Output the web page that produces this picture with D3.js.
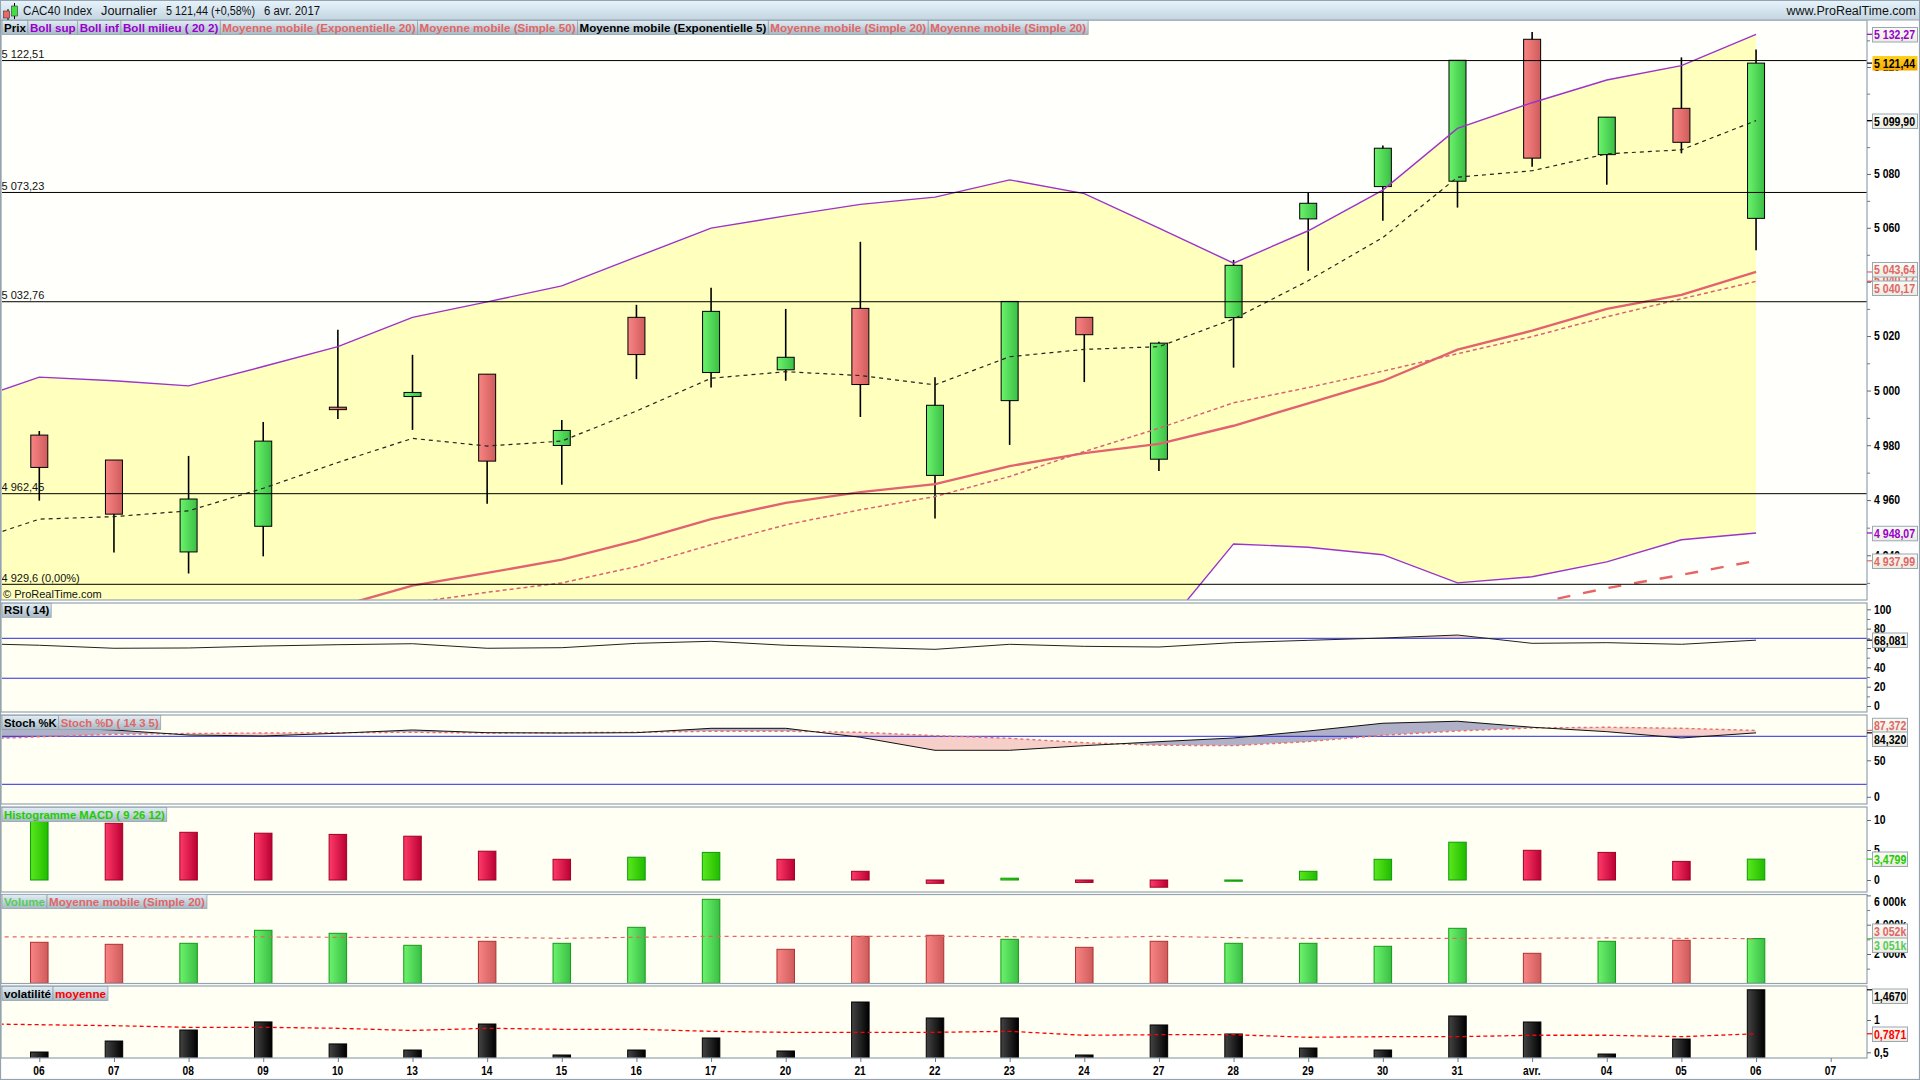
<!DOCTYPE html>
<html><head><meta charset="utf-8">
<script src="https://cdn.jsdelivr.net/npm/d3@7/dist/d3.min.js"></script>
<style>
html,body{margin:0;padding:0;background:#fff;overflow:hidden}
svg{display:block}
text{font-family:"Liberation Sans",Arial,sans-serif}
</style></head><body>
<svg id="c" width="1920" height="1080"></svg>
<script>
// ---------- data ----------
const categories=["06","07","08","09","10","13","14","15","16","17","20","21","22","23","24","27","28","29","30","31","avr.","04","05","06","07"];
const openVals=[4983.7,4974.6,4941.2,4950.5,4993.9,4997.8,5006.0,4979.9,5026.9,5006.6,5007.6,5030.2,4969.0,4996.3,5026.9,4974.9,5026.8,5063.3,5075.3,5077.3,5130.4,5087.2,5104.5,5063.5];
const highVals=[4985.2,4974.6,4976.1,4988.5,5022.3,5013.1,5006.0,4989.2,5031.5,5037.8,5030.0,5054.8,5004.9,5032.76,5026.9,5017.9,5048.1,5073.0,5090.6,5122.51,5133.1,5101.2,5123.6,5126.6];
const lowVals=[4959.8,4941.0,4933.4,4939.6,4989.6,4985.6,4958.7,4965.6,5004.2,5001.1,5003.6,4990.3,4953.3,4980.1,5003.1,4970.6,5008.4,5044.1,5062.6,5067.5,5082.7,5076.0,5087.7,5051.7];
const closeVals=[4971.9,4954.9,4960.4,4981.5,4993.0,4999.3,4974.2,4985.4,5013.2,5029.1,5012.2,5002.2,4994.6,5032.76,5020.5,5017.4,5046.1,5069.1,5089.6,5122.51,5085.9,5101.2,5091.8,5121.44];
// overlay series start one session before the first visible bar
const bollSup=[4995.5,5004.9,5003.6,5001.7,5008.8,5016.1,5026.9,5032.6,5038.5,5049.2,5059.9,5064.4,5068.7,5071.4,5077.8,5072.7,5059.9,5046.9,5058.9,5074.0,5097.0,5106.6,5115.1,5120.5,5132.27];
const bollInf=[4885,4890,4892,4889,4888,4890,4895,4898,4902,4904,4905,4906,4908,4909,4910,4910,4911.4,4944.1,4942.9,4940.2,4930.0,4932.2,4937.6,4945.6,4948.07];
const ema5=[4944.1,4953.1,4954.0,4956.1,4964.3,4973.7,4982.5,4979.7,4981.5,4992.5,5004.5,5006.9,5005.5,5002.1,5012.4,5015.1,5016.1,5026.3,5040.4,5056.4,5078.8,5081.2,5087.5,5089.0,5099.9];
const ema20=[null,null,null,null,null,4921.4,4929.0,4933.6,4938.4,4945.3,4953.1,4959.0,4962.9,4965.8,4972.4,4977.1,4980.5,4987.1,4995.3,5003.5,5015.0,5022.0,5030.0,5035.2,5043.64];
const sma20=[null,null,null,null,null,null,4922.8,4926.6,4930.0,4935.9,4943.8,4951.0,4956.5,4961.3,4968.6,4977.7,4986.2,4995.5,5001.1,5007.1,5013.5,5019.8,5027.1,5033.7,5040.17];
const sma50=[null,null,null,null,null,null,null,null,null,null,null,null,null,null,null,null,null,null,null,null,null,4922.4,4928.1,4932.9,4937.99];
const supportLevels=[5122.51,5073.23,5032.76,4962.45,4929.6];
const supportLabels=["5 122,51","5 073,23","5 032,76","4 962,45","4 929,6 (0,00%)"];
const priceTicks=[5130,5120,5110,5100,5090,5080,5070,5060,5050,5040,5030,5020,5010,5000,4990,4980,4970,4960,4950,4940,4930];
const rsiVals=[64.8,62.8,59.7,60.0,62.0,63.4,64.4,59.7,60.3,64.8,66.9,62.8,60.7,58.6,63.8,61.7,61.0,65.5,67.9,70.3,73.4,64.8,65.5,63.8,68.081];
const rsiLevels=[70,28.7];
const stochK=[86.6,91.0,87.9,81.6,80.4,83.8,87.9,84.5,84.1,84.5,90.0,90.0,78.8,62.5,62.5,68.3,73.3,77.9,86.6,96.3,98.8,91.3,85.8,77.9,84.32];
const stochD=[75.4,79.5,82.5,83.5,84.1,84.5,85.0,84.1,84.5,85.0,86.3,86.3,85.0,80.8,77.5,72.0,68.8,68.3,73.3,81.3,86.6,90.4,91.3,90.0,87.372];
const stochLevels=[80,20];
const macdVals=[10.6,9.45,7.95,7.8,7.6,7.3,4.8,3.45,3.8,4.6,3.45,1.45,-0.55,0.3,-0.4,-1.2,-0.2,1.45,3.45,6.3,4.95,4.6,3.1,3.4799];
const macdUp=[1,0,0,0,0,0,0,0,1,1,0,0,0,1,0,0,1,1,1,1,0,0,0,1];
const volVals=[2799,2662,2730,3618,3413,2594,2867,2730,3823,5734,2321,3208,3277,3003,2457,2867,2730,2730,2526,3754,2048,2867,2935,3051];
const volUp=[0,0,1,1,1,1,0,1,1,1,0,0,0,1,0,0,1,1,1,1,0,1,0,1];
const volAvg=[3163,3163,3186,3163,3163,3140,3140,3140,3072,3140,3208,3208,3208,3208,3185,3117,3208,3117,3072,3072,3072,3072,3095,3072,3052];
const volatVals=[0.505,0.675,0.845,0.97,0.63,0.536,0.938,0.459,0.536,0.722,0.521,1.278,1.031,1.031,0.459,0.923,0.784,0.567,0.536,1.062,0.969,0.474,0.706,1.467];
const volatMean=[0.943,0.927,0.912,0.887,0.887,0.872,0.838,0.872,0.856,0.856,0.825,0.81,0.81,0.81,0.825,0.764,0.773,0.773,0.733,0.742,0.742,0.764,0.764,0.742,0.7871];

// ---------- layout ----------
const svg=d3.select("#c");
const L=2,R=1867;
const panels={main:[20,600],rsi:[603,712],stoch:[715,804],macd:[807,892],vol:[894.5,983.5],volat:[986,1058]};
const frame="#94a3ae";
const x=d3.scaleLinear().domain([0,24]).range([39.3,1830.7]);
const lineIdx=d3.range(-1,24), barIdx=d3.range(0,24);
const yP=d3.scaleLog().domain([4929.6,5132.27]).range([584,34.3]);
const yR=d3.scaleLinear().domain([0,100]).range([706,609.3]);
const yS=d3.scaleLinear().domain([0,100]).range([800.3,720.3]);
const yM=d3.scaleLinear().domain([0,10]).range([880,820]);
const yV=d3.scaleLinear().domain([0,6000]).range([983.3,895.4]);
const yT=d3.scaleLinear().domain([0.5,1]).range([1052.35,1020]);

// narrows a text to the reference's tighter bitmap-font width
function fit(sel,ratio){
  sel.each(function(){
    this.setAttribute("textLength",this.getComputedTextLength()*ratio);
    this.setAttribute("lengthAdjust","spacingAndGlyphs");
  });
  return sel;
}

// gradients
const defs=svg.append("defs");
function grad(id,a,b,vertical){
  const g=defs.append("linearGradient").attr("id",id).attr("x1",0).attr("y1",0).attr("x2",vertical?0:1).attr("y2",vertical?1:0);
  g.append("stop").attr("offset","0%").attr("stop-color",a);
  g.append("stop").attr("offset","100%").attr("stop-color",b);
}
grad("gG","#6cf36c","#3abf45");grad("gR","#f98484","#cf5c5c");
grad("mG","#5ae81c","#22bb00");grad("mR","#ff3a6a","#bb0033");
grad("kK","#444444","#000000");
grad("hdr","#e6f3fb","#c3d5e1",true);
grad("leg","#e3eef5","#a6b9c6",true);
grad("box","#fbfbf6","#ecebe0",true);
grad("gold","#ffd21e","#f5a800",true);

// backgrounds
svg.append("rect").attr("width",1920).attr("height",1080).attr("fill","#ffffff");
Object.entries(panels).forEach(([k,p])=>{
  svg.append("rect").attr("x",L-1).attr("y",p[0]).attr("width",R-L+1).attr("height",p[1]-p[0])
    .attr("fill",k==="main"?"#fffffb":"#fffff3");
  defs.append("clipPath").attr("id","clip-"+k).append("rect").attr("x",L).attr("y",p[0]).attr("width",R-L).attr("height",p[1]-p[0]);
});
const layer=k=>svg.append("g").attr("clip-path",`url(#clip-${k})`);

// ---------- main panel ----------
const m=layer("main");
m.append("path").attr("fill","#ffffbe")
 .attr("d",d3.area().x(i=>x(i)).y0(i=>yP(bollInf[i+1])).y1(i=>yP(bollSup[i+1]))(lineIdx));
// candles
const cg=m.selectAll("g.c").data(barIdx).join("g");
cg.append("line").attr("x1",i=>x(i)).attr("x2",i=>x(i)).attr("y1",i=>yP(highVals[i])).attr("y2",i=>yP(lowVals[i])).attr("stroke","#000").attr("stroke-width",1.6);
cg.append("rect").attr("x",i=>x(i)-8.5).attr("width",17)
  .attr("y",i=>yP(Math.max(openVals[i],closeVals[i])))
  .attr("height",i=>Math.abs(yP(openVals[i])-yP(closeVals[i])))
  .attr("fill",i=>closeVals[i]>=openVals[i]?"url(#gG)":"url(#gR)").attr("stroke","#000").attr("stroke-width",1);
function overlay(g,arr,yScale,color,w,dash){
  return g.append("path").attr("fill","none").attr("stroke",color).attr("stroke-width",w)
    .attr("stroke-dasharray",dash||null)
    .attr("d",d3.line().defined(i=>arr[i+1]!=null).x(i=>x(i)).y(i=>yScale(arr[i+1]))(lineIdx));
}
overlay(m,bollSup,yP,"#9c33cc",1.4);
overlay(m,bollInf,yP,"#9c33cc",1.4);
overlay(m,ema20,yP,"#e2626f",2.4);
overlay(m,sma20,yP,"#dd6078",1.5,"4 3");
overlay(m,sma50,yP,"#e86464",2.4,"13 13");
overlay(m,ema5,yP,"#222",1.2,"4 4");
m.selectAll("line.s").data(supportLevels).join("line").attr("x1",L).attr("x2",R)
  .attr("y1",d=>yP(d)+0.3).attr("y2",d=>yP(d)+0.3).attr("stroke","#000").attr("stroke-width",1);
m.selectAll("text.s").data(supportLevels).join("text").attr("x",1.5).attr("y",d=>yP(d)-2.5)
  .attr("font-size",11).attr("fill","#111").text((d,i)=>supportLabels[i]);
m.append("text").attr("x",3).attr("y",598).attr("font-size",11).attr("fill","#111").text("\u00a9 ProRealTime.com");

// ---------- RSI ----------
const r=layer("rsi");
defs.append("clipPath").attr("id","rsiOver").append("rect").attr("x",L).attr("y",panels.rsi[0]).attr("width",R-L).attr("height",yR(70)-panels.rsi[0]);
r.append("g").attr("clip-path","url(#rsiOver)").append("path").attr("fill","#e9c9cb")
 .attr("d",d3.area().x(i=>x(i)).y0(yR(70)).y1(i=>yR(rsiVals[i+1]))(lineIdx));
rsiLevels.forEach(v=>r.append("line").attr("x1",L).attr("x2",R).attr("y1",yR(v)).attr("y2",yR(v)).attr("stroke","#2a2ae0").attr("stroke-width",1));
overlay(r,rsiVals,yR,"#222",1);

// ---------- Stochastic ----------
const s=layer("stoch");
const between=d3.area().x(i=>x(i)).y0(i=>yS(stochD[i+1])).y1(i=>yS(stochK[i+1]));
defs.append("clipPath").attr("id","aboveD").append("path").attr("d",d3.area().x(i=>x(i)).y0(panels.stoch[0]).y1(i=>yS(stochD[i+1]))(lineIdx));
defs.append("clipPath").attr("id","belowD").append("path").attr("d",d3.area().x(i=>x(i)).y0(panels.stoch[1]).y1(i=>yS(stochD[i+1]))(lineIdx));
s.append("g").attr("clip-path","url(#aboveD)").append("path").attr("fill","#b0b0c8").attr("d",between(lineIdx));
s.append("g").attr("clip-path","url(#belowD)").append("path").attr("fill","#f6cfc9").attr("d",between(lineIdx));
stochLevels.forEach(v=>s.append("line").attr("x1",L).attr("x2",R).attr("y1",yS(v)).attr("y2",yS(v)).attr("stroke","#2a2ae0").attr("stroke-width",1));
overlay(s,stochD,yS,"#ea6e6e",1.4,"3 3");
overlay(s,stochK,yS,"#111",1);

// ---------- bars helper ----------
function bars(k,vals,yScale,base,fill,stroke,w){
  layer(k).selectAll("rect").data(barIdx).join("rect")
   .attr("x",i=>x(i)-w/2).attr("width",w)
   .attr("y",i=>Math.min(yScale(vals[i]),yScale(base)))
   .attr("height",i=>Math.abs(yScale(vals[i])-yScale(base)))
   .attr("fill",fill).attr("stroke",stroke).attr("stroke-width",1);
}
bars("macd",macdVals,yM,0,i=>macdUp[i]?"url(#mG)":"url(#mR)",i=>macdUp[i]?"#0a9a0a":"#a00020",17.5);
bars("vol",volVals,yV,0,i=>volUp[i]?"url(#gG)":"url(#gR)",i=>volUp[i]?"#159a15":"#b03030",17.5);
overlay(layer("vol"),volAvg,yV,"#e86464",1.2,"4 4");
bars("volat",volatVals,yT,0.4,"url(#kK)","#000",17.5);
overlay(layer("volat"),volatMean,yT,"#ff0000",1.3,"4 3");

// ---------- frames ----------
Object.values(panels).forEach(p=>{
  svg.append("rect").attr("x",L-1).attr("y",p[0]).attr("width",R-L+1).attr("height",p[1]-p[0])
    .attr("fill","none").attr("stroke",frame).attr("stroke-width",1.2);
});
svg.append("rect").attr("x",0.5).attr("y",0.5).attr("width",1919).attr("height",1079).attr("fill","none").attr("stroke",frame).attr("stroke-width",1.2);

// ---------- axes ----------
function yAxis(scale,major,minor,fmt,size){
  const g=svg.append("g").attr("transform",`translate(${R},0)`);
  if(minor.length){
    const a=g.append("g").call(d3.axisRight(scale).tickValues(minor).tickFormat("").tickSize(3));
    a.select(".domain").remove();a.selectAll("line").attr("stroke","#6d7b85");
  }
  const b=g.append("g").call(d3.axisRight(scale).tickValues(major).tickFormat(fmt).tickSize(4));
  b.select(".domain").remove();
  b.selectAll("line").attr("stroke","#5c6a74");
  const t=b.selectAll("text").attr("x",7).attr("font-family",'"Liberation Sans",Arial,sans-serif').attr("font-size",size||12).attr("font-weight","bold").attr("fill","#000");
  fit(t,0.87);
  return b;
}
const spaced=d=>{const t=String(Math.round(d));return t.length>3?t.slice(0,-3)+" "+t.slice(-3):t;};
yAxis(yP,priceTicks.filter(d=>d%20===0),priceTicks.filter(d=>d%20!==0),spaced);
yAxis(yR,[100,80,60,40,20,0],[90,70,50,30,10],d=>d);
const stAx=yAxis(yS,[50,0],[],d=>d);
stAx.selectAll(".tick").filter(d=>d===0).attr("transform","translate(0,797.3)");
yAxis(yM,[10,5,0],[],d=>d);
const vAx=yAxis(yV,[6000,4000,2000],[5000,3000,1000],d=>spaced(d)+"k");
vAx.selectAll(".tick text").filter(d=>d===6000).attr("dy","0.85em");
yAxis(yT,[1,0.5],[],d=>String(d).replace(".",","));

const xa=svg.append("g").attr("transform","translate(0,1058)")
  .call(d3.axisBottom(x).tickValues(d3.range(0,25)).tickFormat(i=>categories[i]).tickSize(4));
xa.select(".domain").remove();
xa.selectAll("line").attr("stroke","#6d7b85");
fit(xa.selectAll("text").attr("y",8).attr("dx",-0.8).attr("font-family",'"Liberation Sans",Arial,sans-serif').attr("font-size",12).attr("font-weight","bold").attr("fill","#000"),0.85);

// ---------- value boxes ----------
function vbox(tickY,boxY,text,color,w,bg){
  svg.append("line").attr("x1",R).attr("x2",1872).attr("y1",tickY).attr("y2",tickY).attr("stroke",color).attr("stroke-width",1.2);
  svg.append("rect").attr("x",1872.5).attr("y",boxY-7).attr("width",w).attr("height",14.5)
    .attr("fill",bg||"url(#box)").attr("stroke",bg?"none":"#9aa8b2").attr("stroke-width",1);
  fit(svg.append("text").attr("x",1874).attr("y",boxY+4.6).attr("font-size",12).attr("font-weight","bold").attr("fill",color).text(text),0.88);
}
vbox(yP(5040.17),279,"5 040,17","#e06666",45);
vbox(yP(5043.64),269.5,"5 043,64","#e06666",45);
vbox(yP(5040.17),288,"5 040,17","#e06666",45);
vbox(yP(4937.99),561,"4 937,99","#e06666",45);
vbox(yP(4948.07),533.3,"4 948,07","#9900cc",45);
vbox(yP(5132.27),34.5,"5 132,27","#9900cc",45);
vbox(yP(5099.9),121,"5 099,90","#000",45);
vbox(yP(5121.44),63,"5 121,44","#000",45,"url(#gold)");
vbox(yR(68.081),640,"68,081","#000",35);
vbox(yS(87.372),725.3,"87,372","#e06666",35);
vbox(yS(84.32),739,"84,320","#000",35);
vbox(yM(3.4799),859,"3,4799","#22cc00",35);
vbox(yV(3052),931,"3 052k","#e06666",35);
vbox(yV(3051),945,"3 051k","#55cc55",35);
vbox(yT(1.467),996,"1,4670","#000",35);
vbox(yT(0.7871),1034,"0,7871","#ff0000",35);

// ---------- header ----------
svg.append("rect").attr("x",1).attr("y",1).attr("width",1918).attr("height",19).attr("fill","url(#hdr)");
svg.append("line").attr("x1",0).attr("x2",1920).attr("y1",20).attr("y2",20).attr("stroke",frame).attr("stroke-width",1.2);
svg.append("line").attr("x1",8).attr("x2",8).attr("y1",9).attr("y2",20).attr("stroke","#000");
svg.append("rect").attr("x",3.5).attr("y",11).attr("width",6).attr("height",7).attr("fill","#e66").attr("stroke","#333").attr("stroke-width",.6);
svg.append("line").attr("x1",14.5).attr("x2",14.5).attr("y1",3).attr("y2",19).attr("stroke","#000");
svg.append("rect").attr("x",11.5).attr("y",6).attr("width",6).attr("height",10).attr("fill","#4d4").attr("stroke","#333").attr("stroke-width",.6);
[["CAC40 Index",23,69],["Journalier",101,56],["5 121,44 (+0,58%)",166,89],["6 avr. 2017",264,56]].forEach(t=>
  svg.append("text").attr("x",t[1]).attr("y",15.3).attr("font-size",12).attr("fill","#111")
    .attr("textLength",t[2]).attr("lengthAdjust","spacingAndGlyphs").text(t[0]));
svg.append("text").attr("x",1916).attr("y",15.3).attr("text-anchor","end").attr("font-size",12.5).attr("fill","#111").text("www.ProRealTime.com");

// ---------- legends ----------
function legend(y,items,size){
  let cx=2;
  const g=svg.append("g");
  items.forEach(it=>{
    const bg=g.append("rect").attr("x",cx).attr("y",y).attr("height",14).attr("fill","url(#leg)").attr("stroke",frame).attr("stroke-width",.8);
    const t=g.append("text").attr("x",cx+2).attr("y",y+11).attr("font-size",size).attr("font-weight","bold").attr("fill",it[1]).text(it[0]);
    const w=t.node().getComputedTextLength()+4;
    bg.attr("width",w);cx+=w;
  });
}
legend(20.5,[["Prix","#000"],["Boll sup","#9900cc"],["Boll inf","#9900cc"],["Boll milieu ( 20 2)","#9900cc"],["Moyenne mobile (Exponentielle 20)","#e06666"],["Moyenne mobile (Simple 50)","#e06666"],["Moyenne mobile (Exponentielle 5)","#000"],["Moyenne mobile (Simple 20)","#e06666"],["Moyenne mobile (Simple 20)","#e06666"]],11.6);
legend(603.3,[["RSI ( 14)","#000"]],11.3);
legend(715.5,[["Stoch %K","#000"],["Stoch %D ( 14 3 5)","#e06666"]],11.3);
legend(807.5,[["Histogramme MACD ( 9 26 12)","#22cc00"]],11.3);
legend(894.5,[["Volume","#55cc55"],["Moyenne mobile (Simple 20)","#e06666"]],11.6);
legend(986.5,[["volatilité","#000"],["moyenne","#ff0000"]],11.6);
</script>
</body></html>
